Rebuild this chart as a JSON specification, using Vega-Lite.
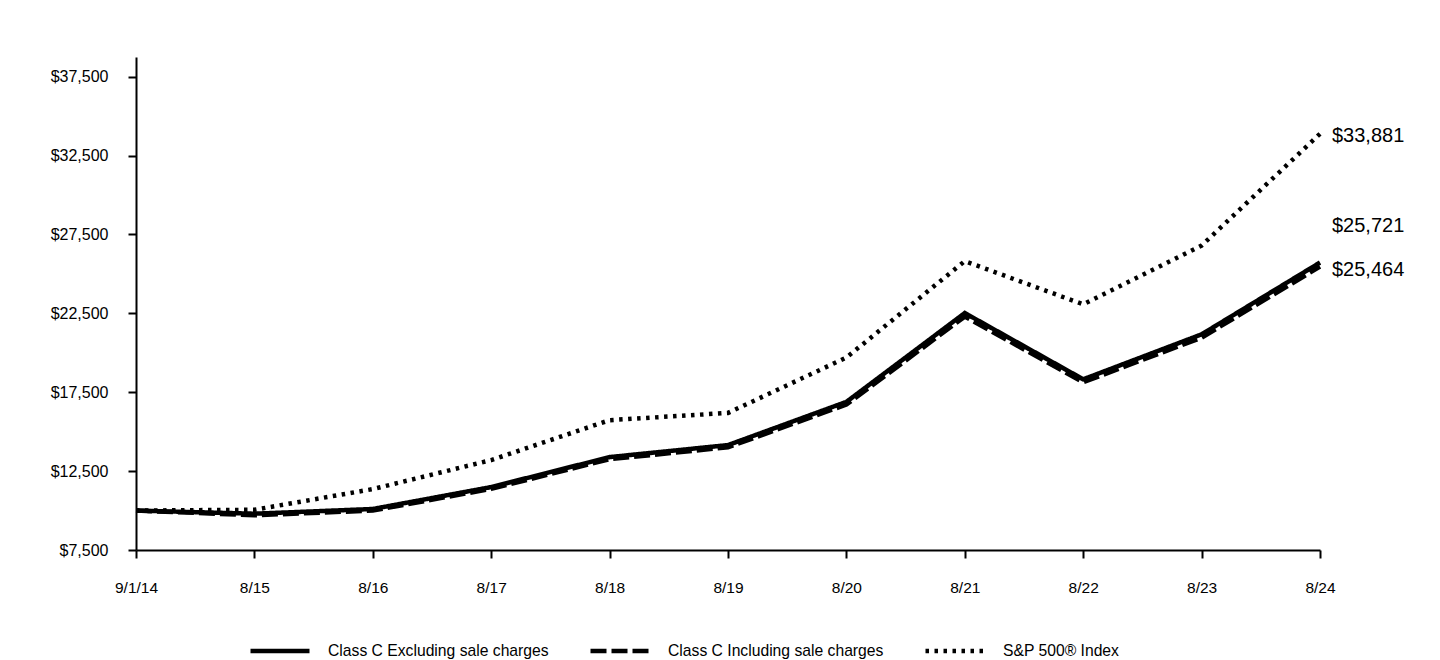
{
  "$schema": "https://vega.github.io/schema/vega-lite/v6.json",
  "autosize": {"type": "none"},
  "width": 1184,
  "height": 493,
  "padding": {"left": 136, "top": 57, "right": 120, "bottom": 110},
  "background": "white",
  "config": {
    "view": {"stroke": null},
    "font": "Liberation Sans",
    "axis": {"labelFont": "Liberation Sans", "labelColor": "black", "domainColor": "black", "tickColor": "black", "grid": false, "title": null},
    "legend": {"labelFont": "Liberation Sans", "labelColor": "black"}
  },
  "datasets": {
    "perf": [
      {"date": "9/1/14", "series": "Class C Excluding sale charges", "value": 10000},
      {"date": "8/15", "series": "Class C Excluding sale charges", "value": 9800},
      {"date": "8/16", "series": "Class C Excluding sale charges", "value": 10100},
      {"date": "8/17", "series": "Class C Excluding sale charges", "value": 11490},
      {"date": "8/18", "series": "Class C Excluding sale charges", "value": 13390},
      {"date": "8/19", "series": "Class C Excluding sale charges", "value": 14150},
      {"date": "8/20", "series": "Class C Excluding sale charges", "value": 16890},
      {"date": "8/21", "series": "Class C Excluding sale charges", "value": 22520},
      {"date": "8/22", "series": "Class C Excluding sale charges", "value": 18320},
      {"date": "8/23", "series": "Class C Excluding sale charges", "value": 21170},
      {"date": "8/24", "series": "Class C Excluding sale charges", "value": 25721},
      {"date": "9/1/14", "series": "Class C Including sale charges", "value": 10000},
      {"date": "8/15", "series": "Class C Including sale charges", "value": 9700},
      {"date": "8/16", "series": "Class C Including sale charges", "value": 10000},
      {"date": "8/17", "series": "Class C Including sale charges", "value": 11375},
      {"date": "8/18", "series": "Class C Including sale charges", "value": 13255},
      {"date": "8/19", "series": "Class C Including sale charges", "value": 14010},
      {"date": "8/20", "series": "Class C Including sale charges", "value": 16720},
      {"date": "8/21", "series": "Class C Including sale charges", "value": 22295},
      {"date": "8/22", "series": "Class C Including sale charges", "value": 18135},
      {"date": "8/23", "series": "Class C Including sale charges", "value": 20960},
      {"date": "8/24", "series": "Class C Including sale charges", "value": 25464},
      {"date": "9/1/14", "series": "S&P 500® Index", "value": 10000},
      {"date": "8/15", "series": "S&P 500® Index", "value": 10050},
      {"date": "8/16", "series": "S&P 500® Index", "value": 11360},
      {"date": "8/17", "series": "S&P 500® Index", "value": 13200},
      {"date": "8/18", "series": "S&P 500® Index", "value": 15730},
      {"date": "8/19", "series": "S&P 500® Index", "value": 16190},
      {"date": "8/20", "series": "S&P 500® Index", "value": 19700},
      {"date": "8/21", "series": "S&P 500® Index", "value": 25810},
      {"date": "8/22", "series": "S&P 500® Index", "value": 23070},
      {"date": "8/23", "series": "S&P 500® Index", "value": 26800},
      {"date": "8/24", "series": "S&P 500® Index", "value": 33881}
    ]
  },
  "data": {"name": "perf"},
  "encoding": {
    "x": {
      "field": "date", "type": "ordinal", "sort": null,
      "scale": {"type": "point", "padding": 0},
      "axis": {"labelAngle": 0, "labelFontSize": 15.5, "tickSize": 8, "tickWidth": 2, "domainWidth": 2, "labelPadding": 22}
    },
    "y": {
      "field": "value", "type": "quantitative",
      "scale": {"domain": [7500, 38750], "nice": false, "zero": false},
      "axis": {"values": [7500, 12500, 17500, 22500, 27500, 32500, 37500], "format": "$,.0f", "labelFontSize": 16, "tickSize": 8, "tickWidth": 2, "domainWidth": 2, "labelPadding": 20}
    }
  },
  "layer": [
    {
      "mark": {"type": "line", "strokeWidth": 4.5, "color": "black", "strokeCap": "butt"},
      "encoding": {
        "detail": {"field": "series"},
        "strokeDash": {
          "field": "series", "type": "nominal",
          "scale": {
            "domain": ["Class C Excluding sale charges", "Class C Including sale charges", "S&P 500® Index"],
            "range": [[1, 0], [16, 5], [3.5, 5.5]]
          },
          "legend": {
            "title": null, "orient": "none", "direction": "horizontal",
            "legendX": 112, "legendY": 562,
            "symbolType": "stroke", "symbolSize": 3481, "symbolStrokeWidth": 4.5, "symbolStrokeColor": "black",
            "labelFontSize": 15.7, "labelOffset": 16, "labelLimit": 500, "columnPadding": 32, "symbolLimit": 0, "padding": 0
          }
        },
        "order": {"field": "series"}
      }
    },
    {
      "transform": [{"filter": "datum.date == '8/24' && datum.series == 'S&P 500® Index'"}],
      "mark": {"type": "text", "align": "left", "baseline": "middle", "dx": 12, "dy": 2, "fontSize": 20, "color": "black"},
      "encoding": {"text": {"field": "value", "format": "$,.0f"}}
    },
    {
      "transform": [{"filter": "datum.date == '8/24' && datum.series == 'Class C Excluding sale charges'"}],
      "mark": {"type": "text", "align": "left", "baseline": "middle", "dx": 12, "dy": -37, "fontSize": 20, "color": "black"},
      "encoding": {"text": {"field": "value", "format": "$,.0f"}}
    },
    {
      "transform": [{"filter": "datum.date == '8/24' && datum.series == 'Class C Including sale charges'"}],
      "mark": {"type": "text", "align": "left", "baseline": "middle", "dx": 12, "dy": 3, "fontSize": 20, "color": "black"},
      "encoding": {"text": {"field": "value", "format": "$,.0f"}}
    }
  ]
}
